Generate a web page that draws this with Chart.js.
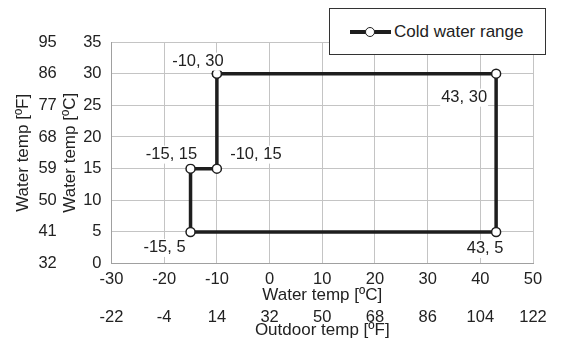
<!DOCTYPE html>
<html lang="en">
<head>
<meta charset="UTF-8">
<title>Cold water range</title>
<script src="https://cdn.jsdelivr.net/npm/chart.js@4.4.0/dist/chart.umd.min.js"></script>
<style>
    * { margin: 0; padding: 0; box-sizing: border-box; }
    body { background: #fff; width: 563px; height: 343px; overflow: hidden; font-family: 'Liberation Sans', Arial, sans-serif; }
    .wrap { position: relative; width: 563px; height: 343px; }
    .legend {
        position: absolute; left: 329px; top: 8px; width: 217px; height: 47px;
        background: #fff; border: 1px solid #333;
        display: flex; align-items: center; padding-left: 20px;
        font-size: 17px; color: #222;
    }
    .legend .mark { position: relative; width: 41px; height: 4px; background: #1e1e1e; margin-right: 3px; }
    .legend .mark::after {
        content: ''; position: absolute; left: 15px; top: -3px; width: 10px; height: 10px;
        border-radius: 50%; background: #fff; border: 1.5px solid #1e1e1e; box-sizing: border-box;
    }
</style>
</head>
<body>
<div class="wrap">
    <canvas id="chart" width="563" height="343"></canvas>
    <div class="legend"><span class="mark"></span>Cold water range</div>
</div>
<script>
// outline of the cold water range, point by point
const outdoorTempC = [-10, 43, 43, -15, -15, -10, -10];
const waterTempC = [30, 30, 5, 5, 15, 15, 30];

// tick labels
const xTicksC = [-30, -20, -10, 0, 10, 20, 30, 40, 50];
const xTicksF = [-22, -4, 14, 32, 50, 68, 86, 104, 122];
const yTicksC = [0, 5, 10, 15, 20, 25, 30, 35];
const yTicksF = [32, 41, 50, 59, 68, 77, 86, 95];

// where each point label sits relative to its point (last point repeats the first)
const labelOffsets = [[-19, -12], [-32, 24], [-11, 17], [-26, 16], [-19, -14], [39, -14], null];

const FONT = "'Liberation Sans', Arial, sans-serif";
const TEXT = '#222';

const pointLabels = {
    id: 'pointLabels',
    afterDatasetsDraw(chart) {
        const ctx = chart.ctx;
        const meta = chart.getDatasetMeta(0);
        ctx.save();
        ctx.font = '16.5px ' + FONT;
        ctx.textAlign = 'center';
        ctx.textBaseline = 'middle';
        meta.data.forEach((pt, i) => {
            const off = labelOffsets[i];
            if (!off) return;
            const txt = outdoorTempC[i] + ', ' + waterTempC[i];
            const x = pt.x + off[0], y = pt.y + off[1];
            const w = ctx.measureText(txt).width;
            ctx.fillStyle = '#fff';
            ctx.fillRect(x - w / 2 - 1, y - 9, w + 2, 18);
            ctx.fillStyle = TEXT;
            ctx.fillText(txt, x, y);
        });
        ctx.restore();
    }
};

function tickAxis(values) {
    return s => { s.ticks = values.map(v => ({ value: v })); };
}

const ctx = document.getElementById('chart').getContext('2d');
new Chart(ctx, {
    type: 'scatter',
    data: {
        datasets: [{
            label: 'Cold water range',
            data: outdoorTempC.map((x, i) => ({ x: x, y: waterTempC[i] })),
            showLine: true,
            borderColor: '#1e1e1e',
            borderWidth: 3.5,
            borderJoinStyle: 'miter',
            pointRadius: 4.5,
            pointBackgroundColor: '#fff',
            pointBorderColor: '#1e1e1e',
            pointBorderWidth: 1.5
        }]
    },
    options: {
        responsive: false,
        animation: false,
        layout: { padding: { left: 13, right: 30, top: 42, bottom: 2 } },
        plugins: { legend: { display: false }, tooltip: { enabled: false } },
        scales: {
            x: {
                type: 'linear', position: 'bottom', min: -30, max: 50, weight: 0,
                afterBuildTicks: tickAxis(xTicksC),
                ticks: { padding: 6, color: TEXT, font: { family: FONT, size: 16.5 } },
                grid: { color: '#c4c4c4', drawTicks: false },
                border: { color: '#a0a0a0' },
                title: { display: true, text: 'Water temp [ºC]', color: TEXT, font: { family: FONT, size: 17 }, padding: { top: -10, bottom: 0 } }
            },
            xF: {
                type: 'linear', position: 'bottom', min: -30, max: 50, weight: 1,
                afterBuildTicks: tickAxis(xTicksC),
                ticks: { padding: 2, color: TEXT, font: { family: FONT, size: 16.5 }, callback: (v, i) => xTicksF[i] },
                grid: { display: false, drawTicks: false },
                border: { display: false },
                title: { display: true, text: 'Outdoor temp [ºF]', color: TEXT, font: { family: FONT, size: 17 }, padding: { top: -9, bottom: 0 } }
            },
            y: {
                type: 'linear', position: 'left', min: 0, max: 35, weight: 0,
                afterBuildTicks: tickAxis(yTicksC),
                ticks: { padding: 10, color: TEXT, font: { family: FONT, size: 16.5 } },
                grid: { color: '#c4c4c4', drawTicks: false },
                border: { color: '#a0a0a0' },
                title: { display: true, text: 'Water temp [ºC]', color: TEXT, font: { family: FONT, size: 17 }, padding: { top: 2, bottom: -7 } }
            },
            yF: {
                type: 'linear', position: 'left', min: 0, max: 35, weight: 1,
                afterBuildTicks: tickAxis(yTicksC),
                ticks: { padding: 1, color: TEXT, font: { family: FONT, size: 16.5 }, callback: (v, i) => yTicksF[i] },
                grid: { display: false, drawTicks: false },
                border: { display: false },
                title: { display: true, text: 'Water temp [ºF]', color: TEXT, font: { family: FONT, size: 17 }, padding: { top: 0, bottom: 4 } }
            }
        }
    },
    plugins: [pointLabels]
});
</script>
</body>
</html>
